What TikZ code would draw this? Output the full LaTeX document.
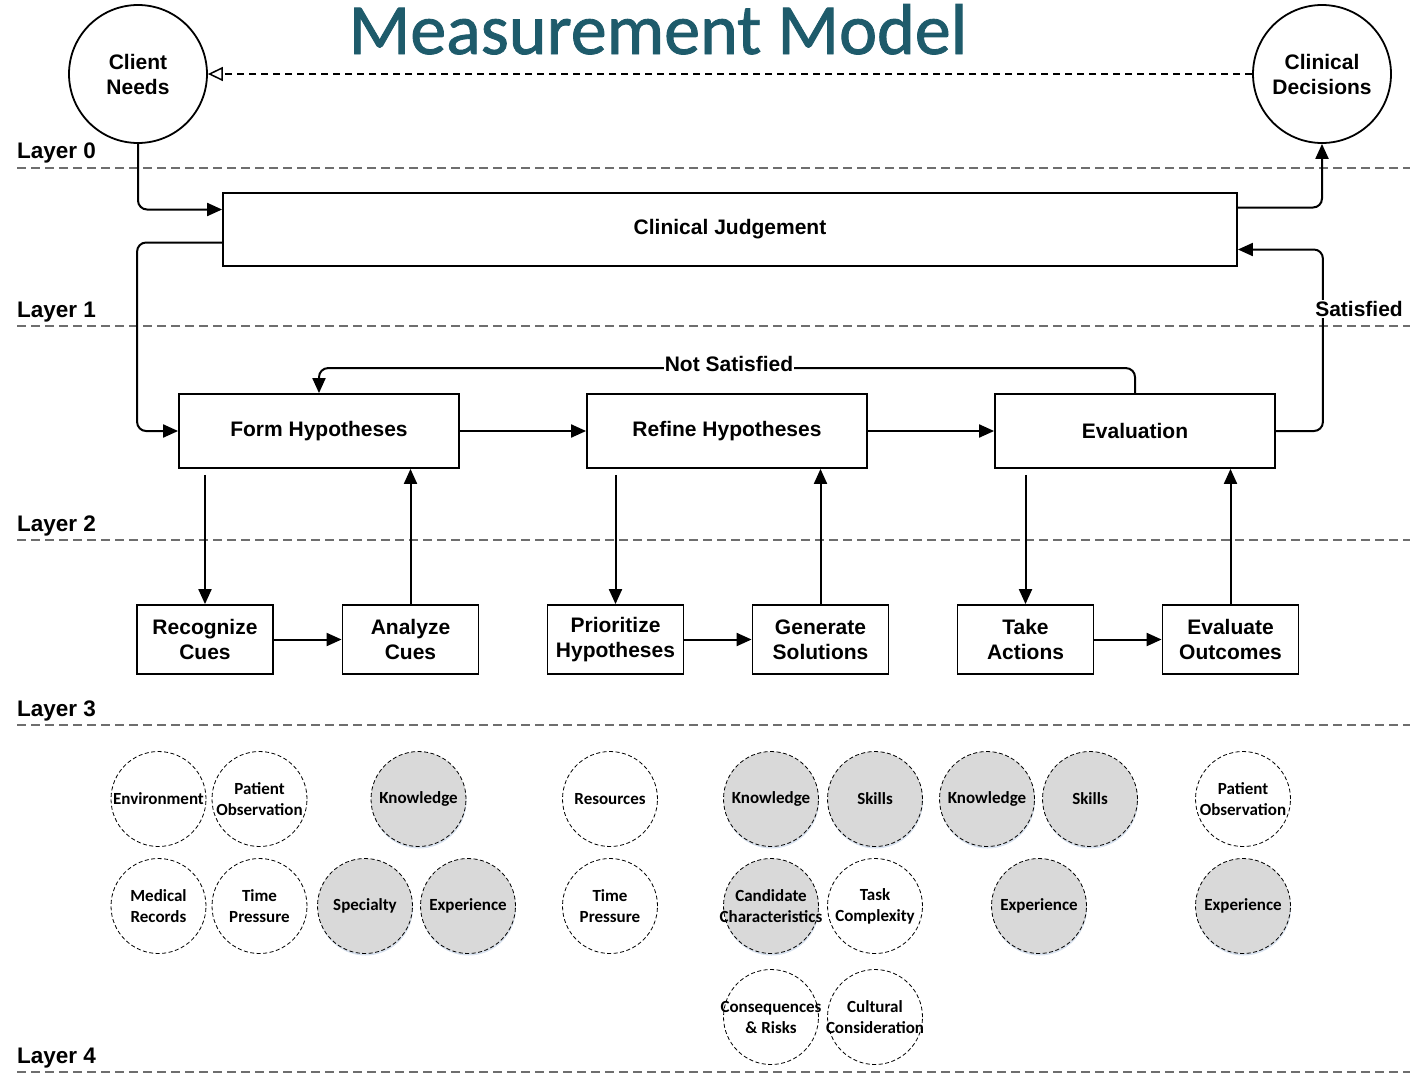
\documentclass[tikz,border=0pt]{standalone}
\usepackage{fontspec}
\setmainfont{Liberation Sans}
\newfontfamily\calib{Carlito}
\newfontfamily\titlefont[FakeBold=1.2]{Carlito}
\usetikzlibrary{arrows.meta,shadows}
\definecolor{titlecol}{HTML}{1E5B6B}
\definecolor{shadecol}{HTML}{D9D9D9}
\definecolor{layercol}{HTML}{6E6E6E}
\definecolor{shadowcol}{HTML}{C9D6E8}
\newcommand\fctr[5]{\node[#4] (#1) at (#2,#3) {}; \node[ftext] (#1t) at (#1) {#5};}
\begin{document}
\begin{tikzpicture}[x=1pt,y=-1pt,
  every node/.style={font=\fontsize{21}{25}\selectfont\bfseries},
  box/.style={draw,line width=1.8pt,inner sep=0pt,align=center,minimum width=#1},
  bigc/.style={circle,draw,line width=1.8pt,minimum size=138,inner sep=0pt,align=center},
  arr/.style={line width=2pt,-{Triangle[length=15pt,width=13pt]}},
  layer/.style={draw=layercol,line width=1.9pt,dash pattern=on 9pt off 5pt},
  lay/.style={anchor=base west,inner sep=0pt,font=\fontsize{22.5}{26}\selectfont\bfseries},
  fc/.style={circle,draw,line width=0.8pt,dash pattern=on 4pt off 2.5pt,minimum size=95,inner sep=0pt},
  gc/.style={fc,fill=shadecol,drop shadow={shadow xshift=0.5pt,shadow yshift=-2pt,fill=shadowcol,opacity=0.7}},
  ftext/.style={font=\calib\fontsize{17}{21}\selectfont\bfseries,align=center,inner sep=0pt}
]
\useasboundingbox (0,0) rectangle (1410,1074);

% title
\node[font=\titlefont\fontsize{72}{80}\selectfont,text=titlecol,anchor=base,inner sep=0pt] (title) at (658,54) {Measurement Model};

% layer lines and labels
\draw[layer] (17,168) -- (1410,168);
\draw[layer] (17,326) -- (1410,326);
\draw[layer] (17,540) -- (1410,540);
\draw[layer] (17,725) -- (1410,725);
\draw[layer] (17,1072) -- (1410,1072);
\node[lay] (l0) at (17,158) {Layer 0};
\node[lay] (l1) at (17,317) {Layer 1};
\node[lay] (l2) at (17,531) {Layer 2};
\node[lay] (l3) at (17,716) {Layer 3};
\node[lay] (l4) at (17,1063) {Layer 4};

% top circles
\node[bigc,fill=white] (cn) at (138,74) {Client\\Needs};
\node[bigc,fill=white] (cd) at (1322,74) {Clinical\\Decisions};

% boxes
\node[box=1014,minimum height=73] (cj) at (730,229.5) {Clinical Judgement};
\node[box=280,minimum height=74] (fh) at (319,431) {Form Hypotheses};
\node[box=280,minimum height=74] (rh) at (727,431) {Refine Hypotheses};
\node[box=280,minimum height=74] (ev) at (1135,431) {Evaluation};

\node[box=136,minimum height=69] (rc) at (205,639.5) {Recognize\\Cues};
\node[box=136,minimum height=69] (ac) at (410.5,639.5) {Analyze\\Cues};
\node[box=136,minimum height=69] (ph) at (615.5,639.5) {Prioritize\\Hypotheses};
\node[box=136,minimum height=69] (gs) at (820.5,639.5) {Generate\\Solutions};
\node[box=136,minimum height=69] (ta) at (1025.5,639.5) {Take\\Actions};
\node[box=136,minimum height=69] (eo) at (1230.5,639.5) {Evaluate\\Outcomes};

% connectors
\draw[line width=1.5pt,dash pattern=on 7pt off 5pt,-{Triangle[open,length=15pt,width=14pt,line width=1.5pt]}] (cd.west) -- (cn.east);
\draw[arr,rounded corners=9pt] (cn.south) |- ([yshift=20]cj.west);
\draw[arr,rounded corners=9pt] ([yshift=-13]cj.west) -- ++(-85,0) |- (fh.west);
\draw[arr,rounded corners=9pt] ([yshift=22]cj.east) -| (cd.south);
\draw[arr,rounded corners=9pt] (ev.east) -- ++(47,0) |- ([yshift=-20]cj.east);
\node[inner sep=1pt,fill=white] (sat) at (1359,309) {Satisfied};
\draw[arr,rounded corners=9pt] (ev.north) -- ++(0,-25) -| (fh.north);
\node[inner sep=1pt,fill=white] (ns) at (729,364) {Not Satisfied};

\draw[arr] (fh.east) -- (rh.west);
\draw[arr] (rh.east) -- (ev.west);

\draw[arr] ([yshift=-6]rc.north |- fh.south) -- (rc.north);
\draw[arr] (ac.north) -- (ac.north |- fh.south);
\draw[arr] ([yshift=-6]ph.north |- rh.south) -- (ph.north);
\draw[arr] (gs.north) -- (gs.north |- rh.south);
\draw[arr] ([yshift=-6]ta.north |- ev.south) -- (ta.north);
\draw[arr] (eo.north) -- (eo.north |- ev.south);

\draw[arr] (rc.east) -- (ac.west);
\draw[arr] (ph.east) -- (gs.west);
\draw[arr] (ta.east) -- (eo.west);

% factor circles
\fctr{f1}{158.5}{799}{fc}{Environment}
\fctr{f2}{259.5}{799}{fc}{Patient\\Observation}
\fctr{f3}{418.5}{799}{gc}{Knowledge}
\fctr{f4}{158.5}{906}{fc}{Medical\\Records}
\fctr{f5}{259.5}{906}{fc}{Time\\Pressure}
\fctr{f6}{365}{906}{gc}{Specialty}
\fctr{f7}{468}{906}{gc}{Experience}
\fctr{f8}{610}{799}{fc}{Resources}
\fctr{f9}{610}{906}{fc}{Time\\Pressure}
\fctr{f10}{771}{799}{gc}{Knowledge}
\fctr{f11}{875}{799}{gc}{Skills}
\fctr{f12}{987}{799}{gc}{Knowledge}
\fctr{f13}{1090}{799}{gc}{Skills}
\fctr{f14}{771}{906}{gc}{Candidate\\Characteristics}
\fctr{f15}{875}{906}{fc}{Task\\Complexity}
\fctr{f16}{1039}{906}{gc}{Experience}
\fctr{f17}{771}{1017}{fc}{Consequences\\\& Risks}
\fctr{f18}{875}{1017}{fc}{Cultural\\Consideration}
\fctr{f19}{1243}{799}{fc}{Patient\\Observation}
\fctr{f20}{1243}{906}{gc}{Experience}
\end{tikzpicture}
\end{document}
